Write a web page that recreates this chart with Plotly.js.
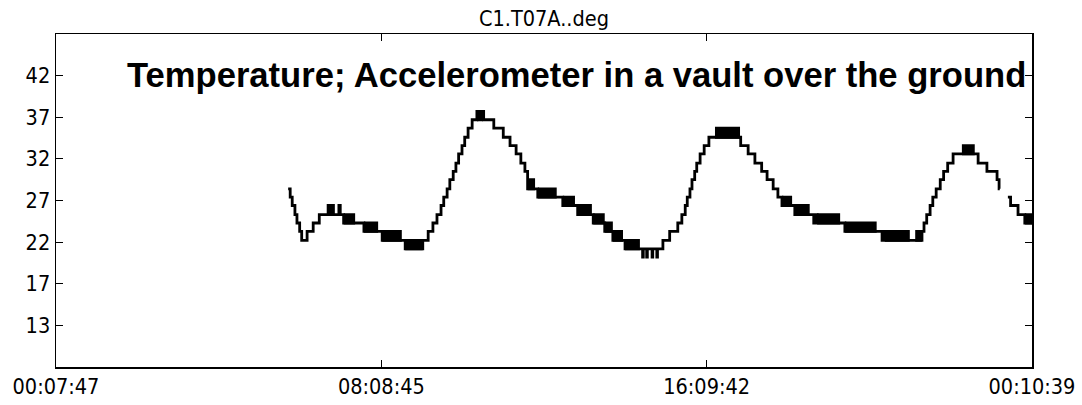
<!DOCTYPE html>
<html><head><meta charset="utf-8">
<script src="https://cdn.plot.ly/plotly-3.0.1.min.js"></script>
<style>html,body{margin:0;padding:0;background:#fff}</style>
</head><body><div id="chart" style="width:1082px;height:405px"></div>
<script>
const chartTitle = "C1.T07A..deg";
const noteText = "Temperature; Accelerometer in a vault over the ground";
const xTickTimes = ["00:07:47", "08:08:45", "16:09:42", "00:10:39"];
const xTickLabels = ["00:07:47", "08:08:45", "16:09:42", "00:10:39"];
const yTickVals = [12, 17, 22, 27, 32, 37, 42];
const yTickLabels = ["13", "17", "22", "27", "32", "37", "42"];

// temperature samples (start of each level), deg
const lineTimes = ["05:51","05:54","05:57","06:01","06:04","06:08","06:11","06:19","06:28","06:37",
  "07:06","07:08","07:13","07:43","08:10","08:44","09:10","09:18","09:25","09:31",
  "09:37","09:41","09:46","09:50","09:55","09:59","10:03","10:08","10:12","10:17",
  "10:23","10:30","10:40","10:55","11:09","11:19","11:28","11:35","11:41","11:45",
  "12:00","12:37","12:59","13:22","13:39","13:51","14:09","14:35","14:36","14:41",
  "14:42","14:49","14:50","14:56","14:57","15:05","15:15","15:27","15:33","15:38",
  "15:41","15:45","15:48","15:52","15:55","16:00","16:06","16:13","17:00","17:11",
  "17:21","17:31","17:39","17:48","17:55","18:01","18:20","18:48","18:50","18:53",
  "19:34","20:29","20:30","20:33","21:28","21:31","21:35","21:40","21:44","21:49",
  "21:55","22:00","22:06","22:14","22:51","23:04","23:19","23:22","23:23","23:29",
  "23:35","23:39","23:50","00:00","00:10:39"];
const lineTemps = [28.4,27.4,26.4,25.3,24.3,23.3,22.2,23.3,24.3,25.3,
  26.4,25.3,24.3,23.3,22.2,21.2,22.2,23.3,24.3,25.3,
  26.4,27.4,28.4,29.5,30.5,31.5,32.6,33.6,34.6,35.7,
  36.7,37.7,36.7,35.7,34.6,33.6,32.6,31.5,30.5,28.4,
  27.4,26.4,25.3,24.3,23.3,22.2,21.2,20.2,21.2,20.2,
  21.2,20.2,21.2,20.2,21.2,22.2,23.3,24.3,25.3,26.4,
  27.4,28.4,29.5,30.5,31.5,32.6,33.6,34.6,33.6,32.6,
  31.5,30.5,29.5,28.4,27.4,26.4,25.3,24.3,25.3,24.3,
  23.3,22.2,23.3,22.2,23.3,24.3,25.3,26.4,27.4,28.4,
  29.5,30.5,31.5,32.6,31.5,30.5,29.5,28.4,28.4,null,
  27.4,26.4,25.3,24.3,24.3];

// intervals where the reading flickers between two adjacent levels
const bandStarts = ["06:48","07:13","07:43","08:10","08:44","10:30","11:45","12:00","12:37","12:59",
  "13:22","13:39","13:51","14:09","16:22","18:01","18:20","18:53","19:34","20:33","21:18","22:27","00:00"];
const bandEnds = ["07:00","07:30","08:04","08:39","09:10","10:39","11:56","12:28","12:55","13:20",
  "13:39","13:51","14:06","14:31","16:59","18:16","18:42","19:27","20:21","21:10","21:28","22:46","00:10:39"];
const bandLows = [25.3,24.3,23.3,22.2,21.2,36.7,28.4,27.4,26.4,25.3,
  24.3,23.3,22.2,21.2,34.6,26.4,25.3,24.3,23.3,22.2,22.2,32.6,24.3];
const bandHighs = [26.4,25.3,24.3,23.3,22.2,37.7,29.5,28.4,27.4,26.4,
  25.3,24.3,23.3,22.2,35.7,27.4,26.4,25.3,24.3,23.3,23.3,33.6,25.3];

function toStamps(times) {
  let day = 0, prev = -1;
  return times.map(t => {
    const p = t.split(':').map(Number);
    const m = p[0] * 60 + p[1] + (p[2] || 0) / 60;
    if (m < prev) day++;
    prev = m;
    const d = day ? '2020-01-02' : '2020-01-01';
    return d + ' ' + (p.length === 2 ? t + ':00' : t);
  });
}

const W = 1082, H = 405;
const M = {l: 56, r: 50, t: 34, b: 38, pad: 0};
const yRange = [7, 47];
const LW = 2.8;
const pxPerUnit = (H - M.t - M.b) / (yRange[1] - yRange[0]);
const pad = (LW / 2) / pxPerUnit;

const xTicks = toStamps(xTickTimes);
const lineX = toStamps(lineTimes);

const seq = [];
bandStarts.forEach((s, i) => { seq.push(s, bandEnds[i]); });
const seqStamps = toStamps(seq);
const bx = [], by = [];
bandStarts.forEach((s, i) => {
  const a = seqStamps[2 * i], b = seqStamps[2 * i + 1];
  const lo = bandLows[i] - pad, hi = bandHighs[i] + pad;
  bx.push(a, b, b, a, a, null);
  by.push(lo, lo, hi, hi, lo, null);
});

const tickFont = {family: '"DejaVu Sans Condensed", "Liberation Sans Narrow", "DejaVu Sans", sans-serif', size: 21.5, color: '#000'};

const traces = [
  {x: lineX, y: lineTemps, type: 'scatter', mode: 'lines', line: {color: '#000', width: LW, shape: 'hv'}, connectgaps: false, hoverinfo: 'skip'},
  {x: bx, y: by, type: 'scatter', mode: 'lines', fill: 'toself', fillcolor: '#000', line: {color: '#000', width: 0}, hoverinfo: 'skip'}
];

const layout = {
  width: W, height: H, autosize: false, margin: M,
  paper_bgcolor: '#fff', plot_bgcolor: '#fff', showlegend: false,
  title: {text: chartTitle, font: tickFont, x: 0.5, xref: 'paper', xanchor: 'center', y: 1 - 18 / H, yref: 'container', yanchor: 'middle'},
  xaxis: {type: 'date', range: [xTicks[0], xTicks[3]], tickmode: 'array', tickvals: xTicks, ticktext: xTickLabels,
    ticks: 'inside', ticklen: 7, tickwidth: 1.2, tickcolor: '#000', showline: true, linecolor: '#000', linewidth: 1.5,
    mirror: 'ticks', showgrid: false, zeroline: false, tickfont: tickFont, fixedrange: true},
  yaxis: {range: yRange, tickmode: 'array', tickvals: yTickVals, ticktext: yTickLabels,
    ticks: 'inside', ticklen: 7, tickwidth: 1.2, tickcolor: '#000', showline: true, linecolor: '#000', linewidth: 1.5,
    mirror: 'ticks', showgrid: false, zeroline: false, tickfont: tickFont, fixedrange: true},
  annotations: [{text: '<b>' + noteText + '</b>', xref: 'paper', yref: 'paper', x: 1, y: (H - M.b - 75) / (H - M.t - M.b),
    xanchor: 'right', yanchor: 'middle', xshift: -4, showarrow: false,
    font: {family: '"Liberation Sans", Arial, sans-serif', size: 34.6, color: '#000'}}]
};

Plotly.newPlot('chart', traces, layout, {displayModeBar: false, staticPlot: true});
</script>
</body></html>
